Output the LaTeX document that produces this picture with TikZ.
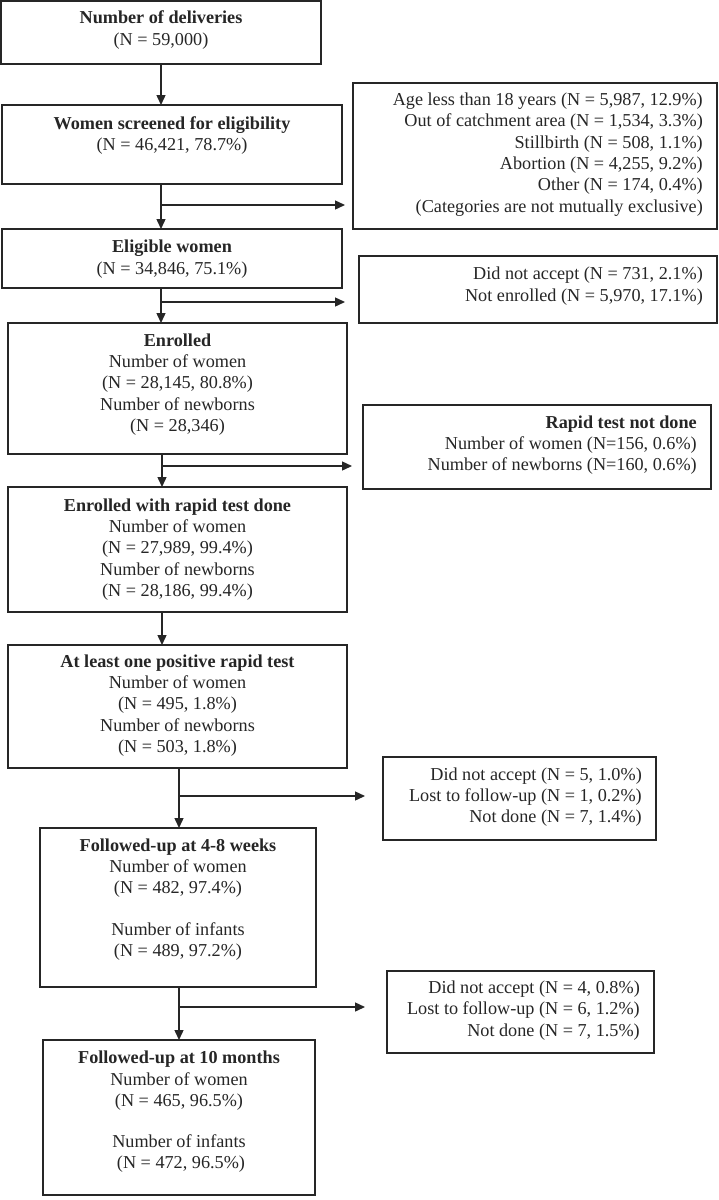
\documentclass[tikz,border=0pt]{standalone}
\usepackage{fontspec}
\setmainfont{Liberation Serif}
\usetikzlibrary{arrows.meta}
\definecolor{ln}{HTML}{262626}
\begin{document}
\begin{tikzpicture}[x=1pt,y=-1pt,
  box/.style={draw=ln, line width=1.4pt, inner sep=0pt, outer sep=0pt, anchor=north west},
  txt/.style={align=center, inner sep=0pt, text=ln, font=\fontsize{18.2}{21.3}\selectfont},
  rtxt/.style={align=right, inner sep=0pt, anchor=east, text=ln, font=\fontsize{18.2}{21.3}\selectfont},
  arr/.style={draw=ln, line width=1.4pt, -{Triangle[length=10pt,width=9pt]}},
  seg/.style={draw=ln, line width=1.4pt}]
\useasboundingbox (0,0) rectangle (718,1200);
\fill[white] (0,0) rectangle (718,1200);

% main column boxes
\node[box, minimum width=320pt, minimum height=63pt]  (b1) at (1,1) {};
\node[box, minimum width=340pt, minimum height=79pt]  (b2) at (2,105) {};
\node[box, minimum width=340pt, minimum height=59pt]  (b3) at (2,229) {};
\node[box, minimum width=339pt, minimum height=131pt] (b4) at (8,323) {};
\node[box, minimum width=339pt, minimum height=125pt] (b5) at (8,487) {};
\node[box, minimum width=339pt, minimum height=123pt] (b6) at (8,645) {};
\node[box, minimum width=276pt, minimum height=159pt] (b7) at (40,828) {};
\node[box, minimum width=272pt, minimum height=155pt] (b8) at (43,1040) {};

% side boxes
\node[box, minimum width=364pt, minimum height=146pt] (e1) at (353,83) {};
\node[box, minimum width=358pt, minimum height=67pt]  (e2) at (359,256) {};
\node[box, minimum width=348pt, minimum height=84pt]  (e3) at (363,405) {};
\node[box, minimum width=273pt, minimum height=83pt]  (e4) at (383,757) {};
\node[box, minimum width=267pt, minimum height=82pt]  (e5) at (387,971) {};

% texts of main boxes
\node[txt] (t1) at (161,30) {\textbf{Number of deliveries}\\(N = 59,000)};
\node[txt] (t2) at (172,135.5) {\textbf{Women screened for eligibility}\\(N = 46,421, 78.7\%)};
\node[txt] (t3) at (172,259) {\textbf{Eligible women}\\(N = 34,846, 75.1\%)};
\node[txt] (t4) at (177.5,384.5) {\textbf{Enrolled}\\Number of women\\(N = 28,145, 80.8\%)\\Number of newborns\\(N = 28,346)};
\node[txt] (t5) at (177.5,549.5) {\textbf{Enrolled with rapid test done}\\Number of women\\(N = 27,989, 99.4\%)\\Number of newborns\\(N = 28,186, 99.4\%)};
\node[txt] (t6) at (177.5,705.5) {\textbf{At least one positive rapid test}\\Number of women\\(N = 495, 1.8\%)\\Number of newborns\\(N = 503, 1.8\%)};
\node[txt] (t7) at (178,899.5) {\textbf{Followed-up at 4-8 weeks}\\Number of women\\(N = 482, 97.4\%)\\[20pt]Number of infants\\(N = 489, 97.2\%)};
\node[txt] (t8) at (179,1112) {\textbf{Followed-up at 10 months}\\Number of women\\(N = 465, 96.5\%)\\[20pt]Number of infants\\\hspace{4pt}(N = 472, 96.5\%)};

% texts of side boxes
\node[rtxt] (s1) at (703,154.5) {Age less than 18 years (N = 5,987, 12.9\%)\\Out of catchment area (N = 1,534, 3.3\%)\\Stillbirth (N = 508, 1.1\%)\\Abortion (N = 4,255, 9.2\%)\\Other (N = 174, 0.4\%)\\(Categories are not mutually exclusive)};
\node[rtxt] (s2) at (703,286) {Did not accept (N = 731, 2.1\%)\\Not enrolled (N = 5,970, 17.1\%)};
\node[rtxt] (s3) at (697,445) {\textbf{Rapid test not done}\\Number of women (N=156, 0.6\%)\\Number of newborns (N=160, 0.6\%)};
\node[rtxt] (s4) at (642,797) {Did not accept (N = 5, 1.0\%)\\Lost to follow-up (N = 1, 0.2\%)\\Not done (N = 7, 1.4\%)};
\node[rtxt] (s5) at (640,1010.5) {Did not accept (N = 4, 0.8\%)\\Lost to follow-up (N = 6, 1.2\%)\\Not done (N = 7, 1.5\%)};

% branch points
\coordinate (p1) at (161,205);
\coordinate (p2) at (161,302);
\coordinate (p3) at (162,466);
\coordinate (p4) at (179,796);
\coordinate (p5) at (179,1007);

% connectors
\draw[arr] (b1.south) -- (b2.north -| b1.south);
\draw[arr] (b2.south -| p1) -- (b3.north -| p1);
\draw[arr] (p1) -- ([xshift=-8pt]e1.west |- p1);
\draw[arr] (b3.south -| p2) -- (b4.north -| p2);
\draw[arr] (p2) -- ([xshift=-14pt]e2.west |- p2);
\draw[arr] (b4.south -| p3) -- (b5.north -| p3);
\draw[arr] (p3) -- ([xshift=-11pt]e3.west |- p3);
\draw[arr] (b5.south -| p3) -- (b6.north -| p3);
\draw[arr] (b6.south -| p4) -- (b7.north -| p4);
\draw[arr] (p4) -- ([xshift=-18pt]e4.west |- p4);
\draw[arr] (b7.south -| p5) -- (b8.north -| p5);
\draw[arr] (p5) -- ([xshift=-22pt]e5.west |- p5);
\end{tikzpicture}
\end{document}
